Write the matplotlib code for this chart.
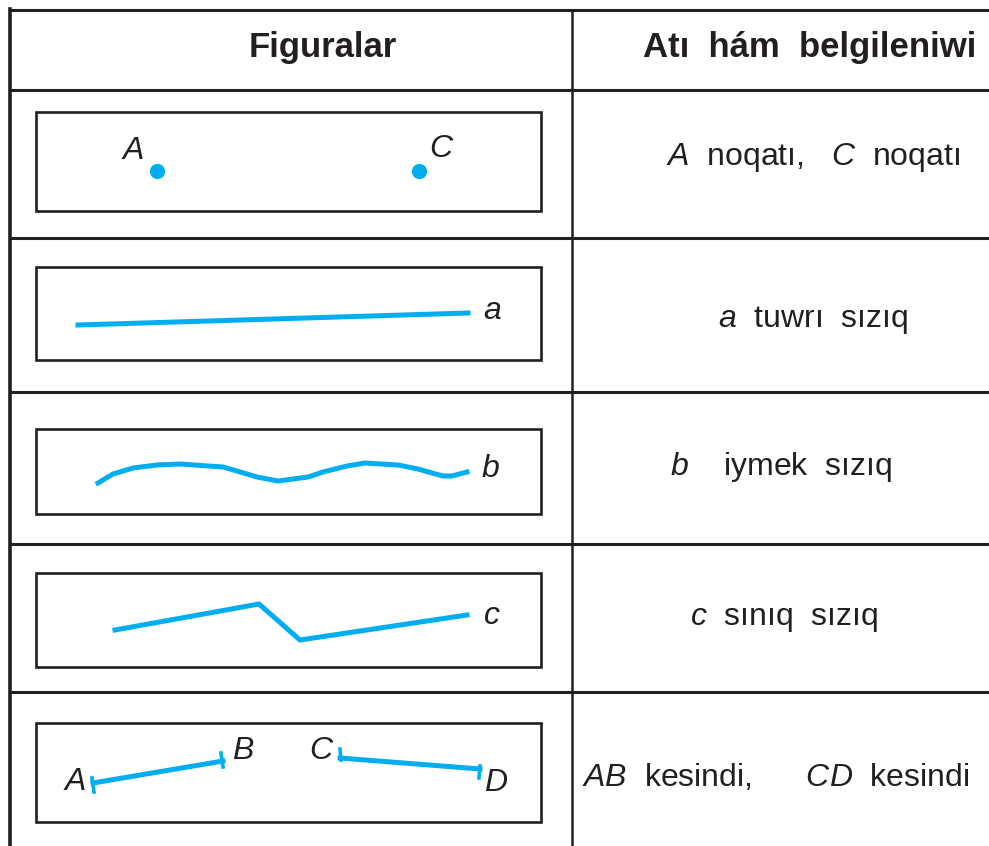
import matplotlib.pyplot as plt
from matplotlib.patches import Rectangle

plt.rcParams['font.family'] = ['Liberation Sans', 'DejaVu Sans']
plt.rcParams['mathtext.fontset'] = 'custom'
plt.rcParams['mathtext.rm'] = 'Liberation Sans'
plt.rcParams['mathtext.it'] = 'Liberation Sans:italic'

INK = '#231f20'
BLUE = '#00aeef'

# table grid (pixel coords)
row_lines = [10, 90, 238, 392, 544, 692]
col_div = 572
boxes = [(112, 211), (267, 360), (429, 514), (573, 667), (723, 822)]
box_x = (36, 541)

headers = ['Figuralar', 'Atı  hám  belgileniwi']
names = [r'$\mathit{A}$  noqatı,   $\mathit{C}$  noqatı',
         r'$\mathit{a}$  tuwrı  sızıq',
         r'$\mathit{b}$    iymek  sızıq',
         r'$\mathit{c}$  sınıq  sızıq',
         r'$\mathit{AB}$  kesindi,      $\mathit{CD}$  kesindi']
name_x = [666, 718, 670, 690, 582]
name_y = [157, 320, 467, 619, 778]

# figures
pts_x = [157, 419]
pts_y = [171, 171]
pts_lab = ['A', 'C']

line_a_x = [78, 468]
line_a_y = [325, 313]

curve_b_x = [98, 113, 133, 157, 180, 223, 237, 257, 278, 308, 323, 347, 365,
             398, 418, 432, 443, 452, 467]
curve_b_y = [483, 474, 468, 465, 464, 467, 471, 477, 481, 477, 472, 466, 463,
             465, 469, 473, 476, 476, 472]

broken_c_x = [115, 259, 300, 467]
broken_c_y = [630, 604, 640, 615]

seg_ab = ([93, 223], [783, 761])
seg_cd = ([340, 480], [758, 769])

fig = plt.figure(figsize=(9.89, 8.46), dpi=100)
ax = fig.add_axes([0, 0, 1, 1])
ax.set_xlim(0, 989)
ax.set_ylim(846, 0)
ax.axis('off')

for y in row_lines:
    ax.plot([10, 989], [y, y], color=INK, lw=2.2, solid_capstyle='butt')
ax.plot([10, 10], [9, 846], color=INK, lw=2.6)
ax.plot([col_div, col_div], [10, 846], color=INK, lw=1.8)

for (y0, y1) in boxes:
    ax.add_patch(Rectangle((box_x[0], y0), box_x[1] - box_x[0], y1 - y0,
                           fill=False, ec=INK, lw=1.9, joinstyle='miter'))

ax.text(323, 48, headers[0], fontsize=25, fontweight='bold', color=INK,
        ha='center', va='center')
ax.text(643, 48, headers[1], fontsize=25, fontweight='bold', color=INK,
        ha='left', va='center')

for x, y, s in zip(name_x, name_y, names):
    ax.text(x, y, s, fontsize=23, color=INK, ha='left', va='center')

lab = dict(fontsize=23, style='italic', color=INK, ha='center', va='center')

# row 1: points
ax.plot(pts_x, pts_y, 'o', color=BLUE, ms=11, mec='none')
ax.text(133, 151, pts_lab[0], **lab)
ax.text(441, 149, pts_lab[1], **lab)

# row 2: straight line
ax.plot(line_a_x, line_a_y, color=BLUE, lw=3.6)
ax.text(492, 311, 'a', **lab)

# row 3: curve
ax.plot(curve_b_x, curve_b_y, color=BLUE, lw=3.6, solid_joinstyle='round')
ax.text(490, 469, 'b', **lab)

# row 4: broken line
ax.plot(broken_c_x, broken_c_y, color=BLUE, lw=3.6, solid_joinstyle='miter')
ax.text(492, 616, 'c', **lab)

# row 5: segments with end ticks
ax.plot(*seg_ab, color=BLUE, lw=3.6)
ax.plot(*seg_cd, color=BLUE, lw=3.6)
ax.plot([92, 94], [778, 792], color=BLUE, lw=2.6)
ax.plot([221, 223], [753, 767], color=BLUE, lw=2.6)
ax.plot([340, 341], [749, 760], color=BLUE, lw=2.6)
ax.plot([480, 479], [766, 778], color=BLUE, lw=2.6)
ax.text(75, 782, 'A', **lab)
ax.text(243, 751, 'B', **lab)
ax.text(321, 751, 'C', **lab)
ax.text(496, 783, 'D', **lab)

fig.savefig('out.png', dpi=100)
